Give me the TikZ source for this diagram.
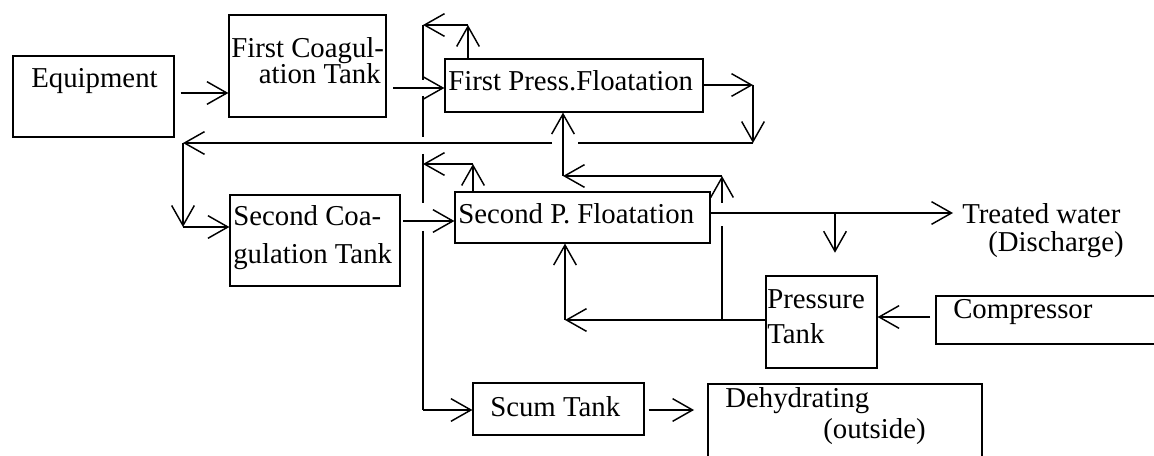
\documentclass[tikz,border=0pt]{standalone}
\usepackage{fontspec}
\setmainfont{Liberation Serif}
\usetikzlibrary{arrows.meta,fit}

\begin{document}
\begin{tikzpicture}[x=0.75pt, y=-0.75pt,
  box/.style={draw, line width=0.9pt, inner sep=0pt},
  txt/.style={inner sep=0pt, anchor=base west, font=\fontsize{21.6}{19}\selectfont},
  flow/.style={line width=1.1pt, -{Straight Barb[length=15pt,width=17pt]}},
  pipe/.style={line width=1.1pt}]
  \path[use as bounding box, clip] (0,0) rectangle (1154,456);
  \fill[white] (0,0) rectangle (1154,456);

  % tanks and units
  \node[box, fit={(13,56) (174,137)}] (equip) {};
  \node[box, fit={(229,15) (386,117)}] (coag1) {};
  \node[box, fit={(445,59) (703,112)}] (fpf) {};
  \node[box, fit={(230,195) (400,286)}] (coag2) {};
  \node[box, fit={(455,192) (710,243)}] (spf) {};
  \node[box, fit={(766,276) (877,368)}] (pt) {};
  \node[box, fit={(936,296) (1170,344)}] (comp) {};
  \node[box, fit={(473,383) (644,435)}] (scum) {};
  \node[box, fit={(708,384) (982,480)}] (dehyd) {};

  % labels
  \node[txt] (equiptxt) at (31,88) {Equipment};
  \node[txt] (coag1a) at (231,58) {First Coagul-};
  \node[txt, anchor=base east] (coag1b) at (381,84) {ation Tank};
  \node[txt] (fpftxt) at (448,91) {First Press.Floatation};
  \node[txt] (coag2a) at (233,226) {Second Coa-};
  \node[txt] (coag2b) at (233,264) {gulation Tank};
  \node[txt] (spftxt) at (458,224) {Second P. Floatation};
  \node[txt] (water) at (962,224) {Treated water};
  \node[txt] (disch) at (988,252) {(Discharge)};
  \node[txt] (pta) at (767,308) {Pressure};
  \node[txt] (ptb) at (767,344) {Tank};
  \node[txt] (comptxt) at (953,318) {Compressor};
  \node[txt] (scumtxt) at (490,416) {Scum Tank};
  \node[txt] (dehyda) at (725,407) {Dehydrating};
  \node[txt] (dehydb) at (823,438) {(outside)};

  % junctions
  \coordinate (busT) at (423,25);
  \coordinate (busM) at (423,137);
  \coordinate (busN) at (423,154);
  \coordinate (busB) at (423,410);
  \coordinate (fT) at (468,25);
  \coordinate (fR) at (753,85);
  \coordinate (fRD) at (753,143);
  \coordinate (retL) at (183,143);
  \coordinate (retD) at (183,227);
  \coordinate (sT) at (473,164);
  \coordinate (sL) at (423,164);
  \coordinate (out) at (953,213);
  \coordinate (outD) at (835,213);
  \coordinate (pL) at (722,320);
  \coordinate (pTop) at (722,176);
  \coordinate (fB) at (563,176);
  \coordinate (sB) at (565,320);

  % first stage
  \draw[flow, shorten <=4.5pt] (equip.east |- 0,93) -- (coag1.west |- 0,93);
  \draw[flow, shorten <=5pt] (coag1.east |- 0,88) -- (fpf.west |- 0,88);
  \draw[pipe] (busT) -- (423,80);
  \draw[pipe] (423,96) -- (busM);
  \draw[flow] (fpf.north -| fT) -- (fT);
  \draw[flow] (fT) -- (busT);
  \draw[flow] (fpf.east |- fR) -- (fR);
  \draw[flow] (fR) -- (fRD);
  \draw[pipe] (fRD) -- (578,143);
  \draw[flow] (552,143) -- (retL);
  \draw[flow] (retL) -- (retD);
  \draw[flow] (retD) -- (coag2.west |- retD);

  % second stage
  \draw[flow, shorten <=2pt] (coag2.east |- 0,221) -- (spf.west |- 0,221);
  \draw[pipe] (busN) -- (423,203);
  \draw[pipe] (423,231) -- (busB);
  \draw[flow] (busB) -- (scum.west |- busB);
  \draw[flow] (spf.north -| sT) -- (sT);
  \draw[flow] (sT) -- (sL);
  \draw[flow] (spf.east |- out) -- (out);
  \draw[flow, shorten >=17pt] (outD) -- (pt.north -| outD);

  % pressure water
  \draw[flow, shorten <=4pt] (comp.west |- 0,317) -- (pt.east |- 0,317);
  \draw[pipe] (pt.west |- pL) -- (pL) -- (722,226);
  \draw[flow] (722,203) -- (pTop);
  \draw[flow] (pTop) -- (fB);
  \draw[flow] (fB) -- (fpf.south -| fB);
  \draw[flow] (pL) -- (sB);
  \draw[flow] (sB) -- (spf.south -| sB);

  % scum
  \draw[flow, shorten <=3pt, shorten >=10pt] (scum.east |- 0,410) -- (dehyd.west |- 0,410);
\end{tikzpicture}
\end{document}
